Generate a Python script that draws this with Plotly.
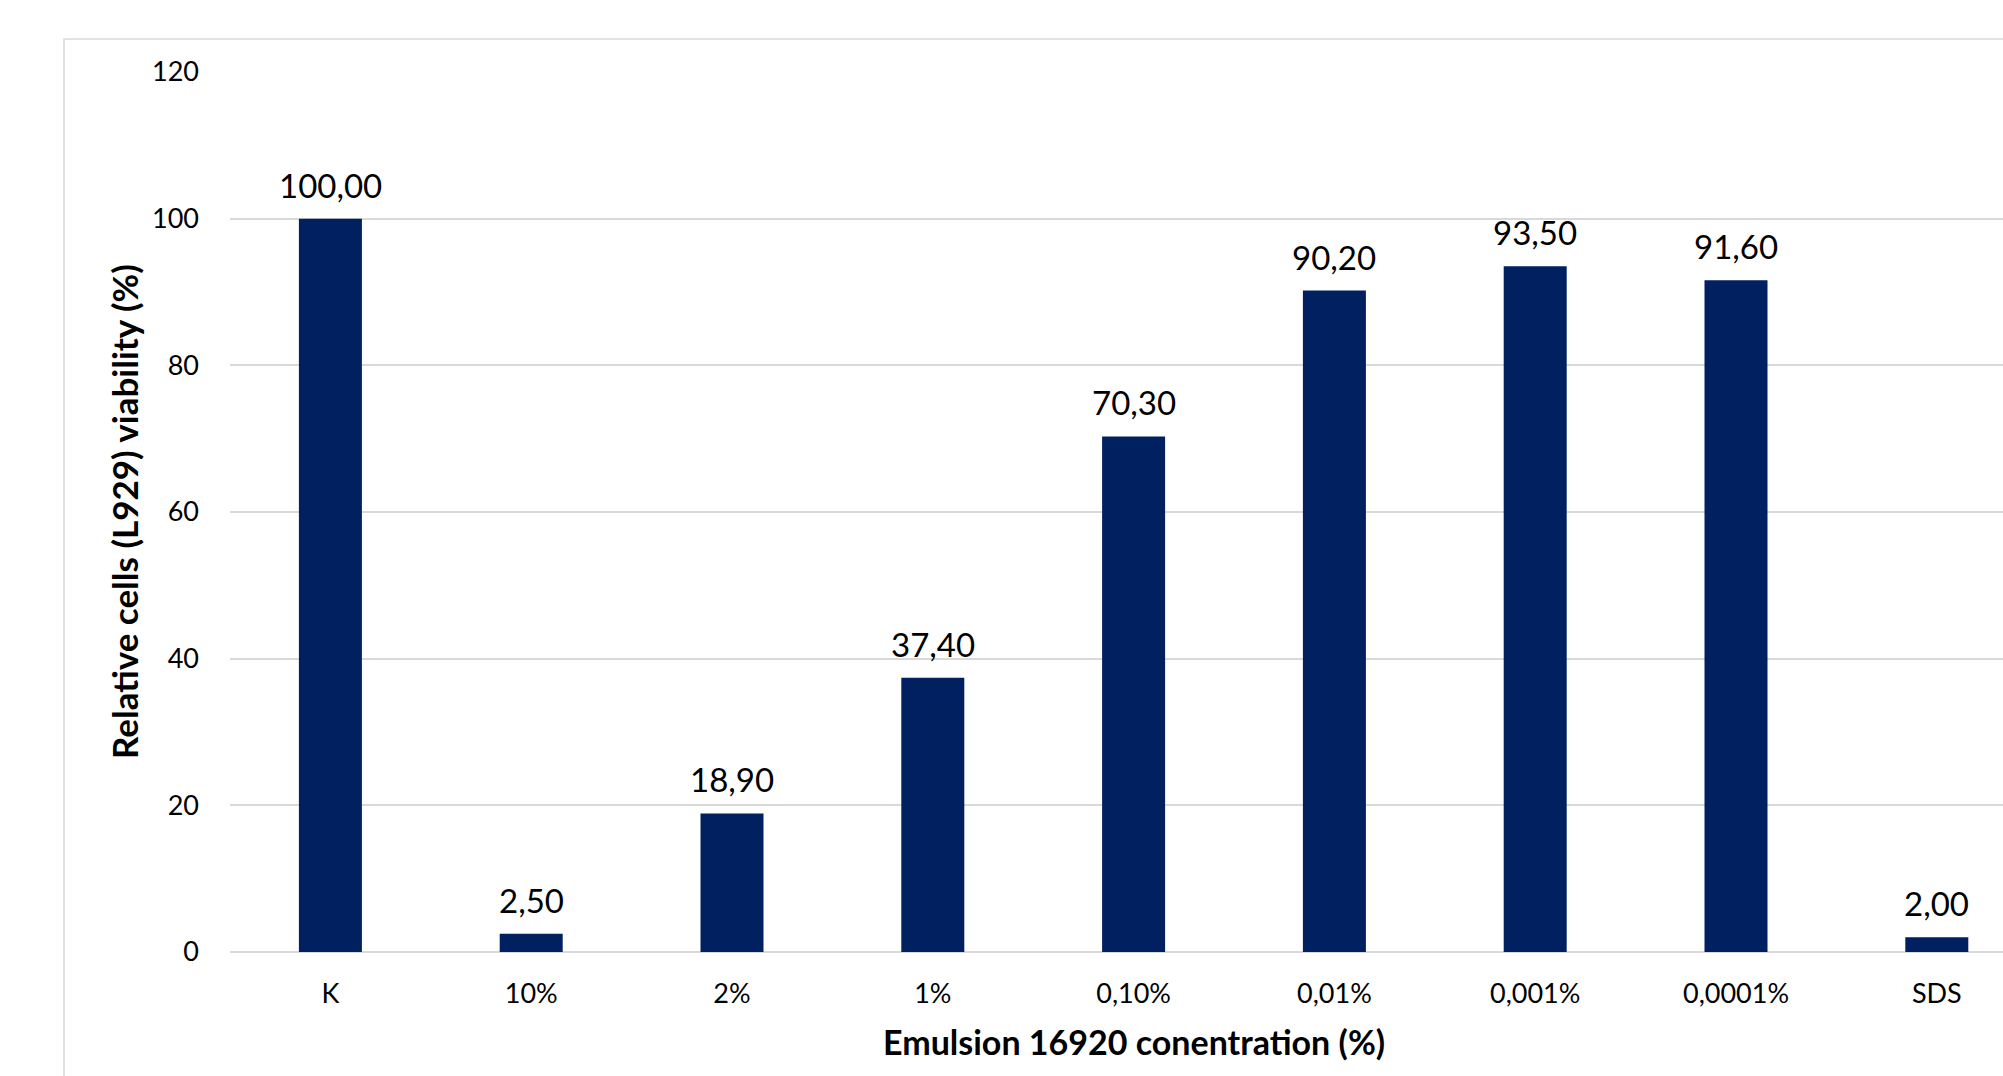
import plotly.graph_objects as go

# Cell viability of L929 cells at each emulsion concentration
categories = ["K", "10%", "2%", "1%", "0,10%", "0,01%", "0,001%", "0,0001%", "SDS"]
viability = [100.00, 2.50, 18.90, 37.40, 70.30, 90.20, 93.50, 91.60, 2.00]
y_ticks = [0, 20, 40, 60, 80, 100, 120]

BAR_COLOR = "#002060"
GRID_COLOR = "#d9d9d9"
FONT = "Lato, 'Open Sans', sans-serif"

W, H = 2003, 1076
ML, MR, MT, MB = 230, 0, 72, 124
plot_w = W - ML - MR
plot_h = H - MT - MB
band = 200.8  # pixel width of one category band
x_span = plot_w / band

fig = go.Figure()
fig.add_trace(go.Bar(
    x=list(range(len(categories))),
    y=viability,
    marker=dict(color=BAR_COLOR, line=dict(width=0)),
    hoverinfo="skip",
))

# value labels above each bar
for i, v in enumerate(viability):
    fig.add_annotation(
        x=i, y=v, xref="x", yref="y",
        text=f"{v:.2f}".replace(".", ","),
        showarrow=False, yanchor="bottom", yshift=12,
        font=dict(family=FONT, size=33, color="#000000"),
    )

# axis titles
fig.add_annotation(
    x=4, y=-(1041 - (H - MB)) / plot_h,
    xref="x", yref="paper",
    text="<b>Emulsion 16920 conentration (%)</b>",
    showarrow=False, xanchor="center", yanchor="middle",
    font=dict(family=FONT, size=34, color="#000000"),
)
fig.add_annotation(
    x=(124 - ML) / plot_w, y=0.5, xref="paper", yref="paper",
    text="<b>Relative cells (L929) viability (%)</b>",
    textangle=-90, showarrow=False, xanchor="center", yanchor="middle",
    font=dict(family=FONT, size=35, color="#000000"),
)

# chart frame
fig.add_shape(
    type="rect", xref="paper", yref="paper",
    x0=(64 - ML) / plot_w, x1=1.2,
    y0=-0.6, y1=(H - MB - 39) / plot_h,
    line=dict(color=GRID_COLOR, width=1.5), fillcolor="rgba(0,0,0,0)",
    layer="below",
)

fig.update_layout(
    width=W, height=H,
    margin=dict(l=ML, r=MR, t=MT, b=MB, pad=0),
    paper_bgcolor="white", plot_bgcolor="white",
    bargap=1 - 63 / band,
    showlegend=False,
    font=dict(family=FONT, color="#000000"),
    xaxis=dict(
        range=[-0.5, -0.5 + x_span],
        tickmode="array",
        tickvals=list(range(len(categories))),
        ticktext=categories,
        tickfont=dict(family=FONT, size=27, color="#000000"),
        showgrid=False, zeroline=False, showline=False,
        ticks="", ticklabelstandoff=23,
        fixedrange=True,
    ),
    yaxis=dict(
        range=[0, 120],
        tickmode="array",
        tickvals=y_ticks,
        ticktext=[str(t) for t in y_ticks],
        tickfont=dict(family=FONT, size=27, color="#000000"),
        showgrid=True, gridcolor=GRID_COLOR, gridwidth=1.5,
        zeroline=True, zerolinecolor=GRID_COLOR, zerolinewidth=1.5,
        showline=False, ticks="", ticklabelstandoff=30,
        fixedrange=True,
    ),
)

fig.write_html("out.html")
